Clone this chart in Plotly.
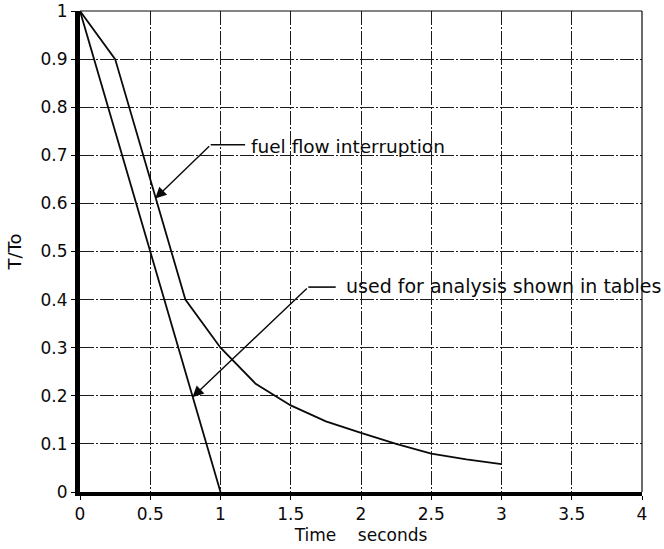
import plotly.graph_objects as go

# Temperature ratio decay after loss of fuel flow
t_linear = [0, 0.25, 0.5, 0.75, 1.0]
ratio_linear = [1.0, 0.75, 0.5, 0.25, 0.0]

t_interrupt = [0, 0.25, 0.5, 0.75, 1.0, 1.25, 1.5, 1.75, 2.0, 2.25, 2.5, 2.75, 3.0]
ratio_interrupt = [1.0, 0.90, 0.65, 0.40, 0.30, 0.225, 0.18, 0.147, 0.123, 0.10, 0.08, 0.068, 0.058]

# Callout labels: (text, arrow tip, leader corner, leader end)
label_fuel = "fuel flow interruption"
tip_fuel = (0.535, 0.61)
corner_fuel = (0.93, 0.722)
end_fuel = (1.175, 0.722)

label_analysis = "used for analysis shown in tables"
tip_analysis = (0.80, 0.197)
corner_analysis = (1.625, 0.426)
end_analysis = (1.82, 0.426)

x_ticks = [0, 0.5, 1, 1.5, 2, 2.5, 3, 3.5, 4]
y_ticks = [0, 0.1, 0.2, 0.3, 0.4, 0.5, 0.6, 0.7, 0.8, 0.9, 1]

FONT = "DejaVu Sans"
INK = "#0a0a0a"

fig = go.Figure()

fig.add_trace(go.Scatter(x=t_linear, y=ratio_linear, mode="lines",
                         line=dict(color=INK, width=1.8), showlegend=False,
                         hoverinfo="skip"))
fig.add_trace(go.Scatter(x=t_interrupt, y=ratio_interrupt, mode="lines",
                         line=dict(color=INK, width=1.8), showlegend=False,
                         hoverinfo="skip"))

# horizontal leader stubs in front of each label
for corner, end in [(corner_fuel, end_fuel), (corner_analysis, end_analysis)]:
    fig.add_trace(go.Scatter(x=[corner[0], end[0]], y=[corner[1], end[1]],
                             mode="lines", line=dict(color=INK, width=1.6),
                             showlegend=False, hoverinfo="skip"))

# diagonal arrows from leader corner to the curve
for tip, corner in [(tip_fuel, corner_fuel), (tip_analysis, corner_analysis)]:
    fig.add_annotation(x=tip[0], y=tip[1], ax=corner[0], ay=corner[1],
                       xref="x", yref="y", axref="x", ayref="y",
                       text="", showarrow=True, arrowhead=2, arrowsize=1.6,
                       arrowwidth=1.4, arrowcolor=INK, standoff=0)

fig.add_annotation(x=end_fuel[0] + 0.03, y=end_fuel[1] - 0.004, xref="x", yref="y",
                   text=label_fuel, showarrow=False, xanchor="left",
                   yanchor="middle", font=dict(family=FONT, size=18.5, color=INK))
fig.add_annotation(x=end_analysis[0] + 0.06, y=end_analysis[1] + 0.002,
                   xref="x", yref="y", text=label_analysis, showarrow=False,
                   xanchor="left", yanchor="middle",
                   font=dict(family=FONT, size=19, color=INK))

grid_common = dict(showgrid=True, gridcolor="#1a1a1a", gridwidth=1,
                   griddash="14px,2px,2px,2px", zeroline=False,
                   showline=True, linecolor="#000000", ticks="outside",
                   ticklen=4, tickwidth=1, tickcolor="#000000",
                   automargin=False,
                   tickfont=dict(family=FONT, size=17, color=INK))

fig.update_xaxes(range=[0, 4], tickvals=x_ticks, linewidth=4,
                 title=dict(text="Time\u00a0\u00a0\u00a0\u00a0seconds",
                            font=dict(family=FONT, size=17, color=INK),
                            standoff=7),
                 **grid_common)
fig.update_yaxes(range=[0, 1], tickvals=y_ticks, linewidth=5,
                 title=dict(text="T/To", font=dict(family=FONT, size=18, color=INK),
                            standoff=16),
                 **grid_common)

# thin frame on the top and right edges
fig.add_shape(type="line", xref="paper", yref="paper", x0=0, x1=1, y0=1, y1=1,
              line=dict(color=INK, width=1.2))
fig.add_shape(type="line", xref="paper", yref="paper", x0=1, x1=1, y0=0, y1=1,
              line=dict(color=INK, width=1.2))

fig.update_layout(width=664, height=549,
                  margin=dict(l=80, r=22, t=11, b=57),
                  paper_bgcolor="white", plot_bgcolor="white",
                  font=dict(family=FONT, color=INK))

fig.write_html("out.html")
